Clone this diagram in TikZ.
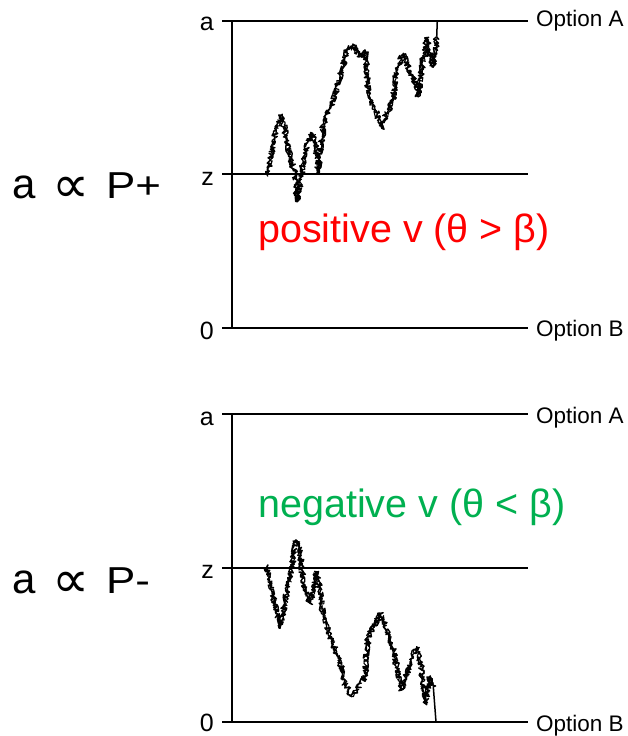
\documentclass[tikz,border=0pt]{standalone}
\usepackage{fontspec}
\setmainfont{Liberation Sans}
\newfontfamily\symfont{DejaVu Sans}
\usetikzlibrary{decorations.pathmorphing}
\definecolor{posred}{RGB}{255,0,0}
\definecolor{neggreen}{RGB}{0,176,80}
\tikzset{
  axisline/.style={line width=2pt, black},
  levelline/.style={line width=1.5pt, black},
  walk/.style={line width=1.4pt, black, line join=round,
    decorate, decoration={random steps, segment length=1.2pt, amplitude=3.2pt}},
  walkb/.style={line width=1.1pt, black, line join=round,
    decorate, decoration={random steps, segment length=1.0pt, amplitude=2.6pt}},
  ticklabel/.style={anchor=base east, inner sep=0pt, font=\fontsize{25}{28}\selectfont},
  optlabel/.style={anchor=base west, inner sep=0pt, font=\fontsize{22.5}{26}\selectfont},
  bigtext/.style={anchor=base west, inner sep=0pt, font=\fontsize{39.5}{44}\selectfont},
  sidea/.style={anchor=base west, inner sep=0pt, font=\fontsize{42}{48}\selectfont},
  sideprop/.style={anchor=center, inner sep=0pt, font=\symfont\fontsize{52}{60}\selectfont},
  sidep/.style={anchor=base west, inner sep=0pt, font=\fontsize{37.5}{44}\selectfont, xscale=1.17},
}
\begin{document}
\begin{tikzpicture}[x=1pt,y=-1pt]
\useasboundingbox (0,0) rectangle (628,736);
% ---------- top panel ----------
\coordinate (tA0) at (222,21);   \coordinate (tA1) at (528,21);
\coordinate (tZ0) at (222,174);  \coordinate (tZ1) at (528,174);
\coordinate (tB0) at (222,328);  \coordinate (tB1) at (528,328);
\coordinate (tX0) at (232,20);   \coordinate (tX1) at (232,329);
\draw[axisline] (tX0) -- (tX1);
\draw[levelline] (tA0) -- (tA1);
\draw[levelline] (tZ0) -- (tZ1);
\draw[levelline] (tB0) -- (tB1);
\node[ticklabel] (ta) at (214,30) {a};
\node[ticklabel] (tz) at (214,185) {z};
\node[ticklabel] (t0) at (214,339) {0};
\node[optlabel] (toA) at (536,27) {Option A};
\node[optlabel] (toB) at (536,336) {Option B};
\node[bigtext, text=posred] (tpos) at (258,242) {positive v (θ > β)};
\node[sidea] (tsa) at (12,198) {a};
\node[sideprop] (tsp) at (71,190) {∝};
\node[sidep] (tsP) at (106,198) {P+};
\def\toppath{(267.3,175) -- (271.7,151.7) -- (277.3,126.7) -- (281.7,115) -- (286.7,140)
  -- (290,156.7) -- (295,173.3) -- (297.3,201.7) -- (301.7,173.3) -- (306.7,143.3)
  -- (312.7,133.3) -- (316,146.7) -- (318.3,171.7) -- (323.3,126.7) -- (328.3,110)
  -- (333.3,100) -- (340,76.7) -- (346.7,51.7) -- (353.3,45) -- (360,56.7) -- (365,50)
  -- (368.3,96.7) -- (375,110) -- (381.7,128.3) -- (386.7,113.3) -- (393.3,100)
  -- (396.7,70) -- (403.3,53.3) -- (410,73.3) -- (416.7,83.3) -- (418.3,96.7)
  -- (423.3,56.7) -- (426.7,38.3) -- (430,56.7) -- (433.3,66.7) -- (436.7,36.7)}
\pgfmathsetseed{4242}
\draw[walk] \toppath;
\pgfmathsetseed{977}
\draw[walkb] \toppath;
\draw[line width=1.5pt] (436.7,36.7) -- (437.3,21);
% ---------- bottom panel ----------
\coordinate (bA0) at (222,414);  \coordinate (bA1) at (528,414);
\coordinate (bZ0) at (222,568);  \coordinate (bZ1) at (528,568);
\coordinate (bB0) at (222,722);  \coordinate (bB1) at (528,722);
\coordinate (bX0) at (232,413);  \coordinate (bX1) at (232,723);
\draw[axisline] (bX0) -- (bX1);
\draw[levelline] (bA0) -- (bA1);
\draw[levelline] (bZ0) -- (bZ1);
\draw[levelline] (bB0) -- (bB1);
\node[ticklabel] (ba) at (214,425) {a};
\node[ticklabel] (bz) at (214,578) {z};
\node[ticklabel] (b0) at (214,731) {0};
\node[optlabel] (boA) at (536,423) {Option A};
\node[optlabel] (boB) at (536,731) {Option B};
\node[bigtext, text=neggreen] (bneg) at (258,517) {negative v (θ < β)};
\node[sidea] (bsa) at (12,593) {a};
\node[sideprop] (bsp) at (71,585) {∝};
\node[sidep] (bsP) at (106,593) {P-};
\def\botpath{(266.7,566.7) -- (271.7,590) -- (275,606.7) -- (280,628.3) -- (285,603.3)
  -- (290,576.7) -- (296,540) -- (299.3,546.7) -- (303.3,583.3) -- (310,603.3)
  -- (316.7,571.7) -- (320,586.7) -- (323.3,616.7) -- (330,636.7) -- (338.3,656.7)
  -- (345,683.3) -- (351.7,696.7) -- (360,683.3) -- (365,676.7) -- (368.3,636.7)
  -- (380,613.3) -- (386.7,630) -- (393.3,650) -- (401.7,690) -- (410,663.3)
  -- (416.7,646.7) -- (421.7,670) -- (425,703.3) -- (430,676.7) -- (433.3,686.7)}
\pgfmathsetseed{5151}
\draw[walk] \botpath;
\pgfmathsetseed{313}
\draw[walkb] \botpath;
\draw[line width=1.5pt] (433.3,686.7) -- (436,722);
\end{tikzpicture}
\end{document}
